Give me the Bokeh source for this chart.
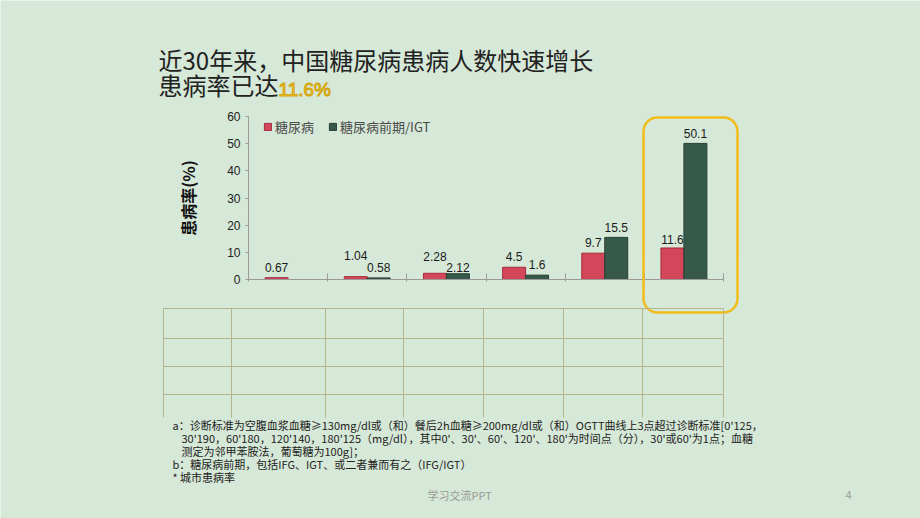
from bokeh.plotting import figure
from bokeh.models import (Range1d, LinearAxis, FixedTicker, Label, BoxAnnotation, Arrow,
                          ColumnDataSource, Legend, LegendItem)
from bokeh.core.properties import value
from bokeh.embed import file_html
from bokeh.resources import INLINE

# ---------------- data ----------------
survey = ["1980", "1986", "1994", "1996", "2002", "2007-08"]
diabetes = [0.67, 1.04, 2.28, 4.5, 9.7, 11.6]
pre_diabetes = [None, 0.58, 2.12, 1.6, 15.5, 50.1]
y_ticks = [0, 10, 20, 30, 40, 50, 60]
series_names = ["糖尿病", "糖尿病前期/IGT"]
y_label = "患病率(%)"
title_line1 = "近30年来，中国糖尿病患病人数快速增长"
title_line2 = "患病率已达"
title_highlight = "11.6%"
footnotes = [
    "a：诊断标准为空腹血浆血糖≥130mg/dl或（和）餐后2h血糖≥200mg/dl或（和）OGTT曲线上3点超过诊断标准[0'125，",
    "30'190，60'180，120'140，180'125（mg/dl），其中0'、30'、60'、120'、180'为时间点（分），30'或60'为1点；血糖",
    "测定为邻甲苯胺法，葡萄糖为100g]；",
    "b：糖尿病前期，包括IFG、IGT、或二者兼而有之（IFG/IGT）",
    "* 城市患病率",
]
footer_text = "学习交流PPT"
page_number = "4"

# ---------------- styling / layout ----------------
W, H = 920, 518
CL, CR, CT, CB = 248, 723, 116, 279      # chart plotting area in page pixels
BG = "#d6e8d7"
RED, RED_EDGE = "#d4475b", "#a52a3c"
GREEN, GREEN_EDGE = "#36594a", "#253f31"
BAR_W = 0.29
red_lift = [10, 21, 17, 11, 11, 8]       # label distance above bar top (px)
green_lift = [10, 10, 6, 11, 10, 10]

N = len(survey)
Y0, Y1 = y_ticks[0], y_ticks[-1]
kx = (CR - CL) / N
ky = (CB - CT) / (Y1 - Y0)

# page figure: data coordinates = page pixels (y downwards)
p = figure(width=W, height=H, output_backend="svg", toolbar_location=None,
           x_range=Range1d(0, W), y_range=Range1d(H, 0),
           x_axis_type=None, y_axis_type=None,
           min_border_left=0, min_border_right=0, min_border_top=0, min_border_bottom=0)
p.background_fill_color = BG
p.border_fill_color = BG
p.outline_line_color = None

# chart scales mapped onto the chart area of the page
p.extra_x_ranges = {"cx": Range1d(-CL / kx, (W - CL) / kx)}
p.extra_y_ranges = {"cy": Range1d(Y0 - (H - CB) / ky, Y1 + CT / ky)}

# axes drawn at fixed locations inside the page
yaxis = LinearAxis(ticker=FixedTicker(ticks=y_ticks), x_range_name="cx", y_range_name="cy",
                   fixed_location=0, bounds=(Y0, Y1))
yaxis.axis_line_color = "#9a9a9a"
yaxis.major_tick_line_color = "#9a9a9a"
yaxis.major_tick_out = 3
yaxis.major_tick_in = 0
yaxis.minor_tick_line_color = None
yaxis.major_label_standoff = 5
yaxis.major_label_text_font = "Liberation Sans"
yaxis.major_label_text_font_size = "12px"
yaxis.major_label_text_color = "#222222"
yaxis.axis_label = y_label
yaxis.axis_label_text_font = "Noto Sans CJK SC"
yaxis.axis_label_text_font_style = "bold"
yaxis.axis_label_text_font_size = "16px"
yaxis.axis_label_text_color = "#111111"
yaxis.axis_label_standoff = 24
p.add_layout(yaxis, "left")

xaxis = LinearAxis(ticker=FixedTicker(ticks=list(range(N + 1))), x_range_name="cx",
                   y_range_name="cy", fixed_location=Y0, bounds=(0, N))
xaxis.axis_line_color = "#9a9a9a"
xaxis.major_tick_line_color = "#9a9a9a"
xaxis.major_tick_in = 6
xaxis.major_tick_out = 2
xaxis.minor_tick_line_color = None
xaxis.major_label_text_font_size = "0px"
xaxis.major_label_overrides = {i: "" for i in range(N + 1)}
p.add_layout(xaxis, "below")

# bars
xs = [i + 0.5 for i in range(N)]
red_src = ColumnDataSource(dict(
    x=[x - BAR_W / 2 for x in xs], top=diabetes,
    label=[f"{v:g}" for v in diabetes], dy=[-l for l in red_lift]))
g_idx = [i for i, v in enumerate(pre_diabetes) if v is not None]
green_src = ColumnDataSource(dict(
    x=[xs[i] + BAR_W / 2 for i in g_idx], top=[pre_diabetes[i] for i in g_idx],
    label=[f"{pre_diabetes[i]:g}" for i in g_idx], dy=[-green_lift[i] for i in g_idx]))

r1 = p.vbar(x="x", top="top", width=BAR_W, bottom=0, source=red_src,
            x_range_name="cx", y_range_name="cy",
            fill_color=RED, line_color=RED_EDGE, line_width=1)
r2 = p.vbar(x="x", top="top", width=BAR_W, bottom=0, source=green_src,
            x_range_name="cx", y_range_name="cy",
            fill_color=GREEN, line_color=GREEN_EDGE, line_width=1)

for src in (red_src, green_src):
    p.text(x="x", y="top", text="label", source=src, y_offset="dy",
           x_range_name="cx", y_range_name="cy",
           text_align="center", text_baseline="middle",
           text_font=value("Liberation Sans"), text_font_size="12px",
           text_color="#1a1a1a")

legend = Legend(items=[LegendItem(label=series_names[0], renderers=[r1]),
                       LegendItem(label=series_names[1], renderers=[r2])],
                orientation="horizontal", location=(263, 382),
                padding=0, margin=0, spacing=14,
                glyph_width=9, glyph_height=9, label_height=9,
                label_standoff=3,
                label_text_font="Noto Sans CJK SC", label_text_font_size="13px",
                label_text_color="#4a4a4a",
                background_fill_alpha=0, border_line_color=None)
p.add_layout(legend)

# highlight box around last group
p.add_layout(BoxAnnotation(left=643, right=737, top=117, bottom=312,
                           fill_color=None, fill_alpha=0, line_color="#f0bd1c",
                           line_alpha=1.0, line_width=2.5, border_radius=14))

# empty table grid beneath chart
col_px = [163, 231, 325, 403, 483, 563, 642, 723]
row_px = [308, 338, 366, 394]
xs0, ys0, xs1, ys1 = [], [], [], []
for c in col_px:
    xs0.append(c); xs1.append(c); ys0.append(308); ys1.append(417)
for r in row_px:
    xs0.append(col_px[0]); xs1.append(col_px[-1]); ys0.append(r); ys1.append(r)
grid_src = ColumnDataSource(dict(x0=xs0, y0=ys0, x1=xs1, y1=ys1))
p.add_layout(Arrow(end=None, x_start="x0", y_start="y0", x_end="x1", y_end="y1",
                   source=grid_src, line_color="#b4b48c", line_width=1))

# titles
p.add_layout(Label(x=158, y=59, text=title_line1, text_font="Noto Sans CJK SC",
                   text_font_size="24px", text_color="#222222", text_baseline="middle"))
p.add_layout(Label(x=158, y=84, text=title_line2, text_font="Noto Sans CJK SC",
                   text_font_size="24px", text_color="#222222", text_baseline="middle"))
p.add_layout(Label(x=278, y=89, text=title_highlight, text_font="Liberation Sans",
                   text_font_size="19px", text_color="#f2c31a", text_baseline="middle",
                   text_outline_color="#d4a510"))

# footnotes
foot_x = [172, 181, 181, 172, 172]
foot_y = [424, 437, 450, 463, 476]
for t, fx, fy in zip(footnotes, foot_x, foot_y):
    p.add_layout(Label(x=fx, y=fy, text=t, text_font="Noto Sans CJK SC",
                       text_font_size="11px", text_color="#222222", text_baseline="middle"))

p.add_layout(Label(x=427, y=494, text=footer_text, text_font="Noto Sans CJK SC",
                   text_font_size="11px", text_color="#9a9a9a", text_baseline="middle"))
p.add_layout(Label(x=848, y=494, text=page_number, text_font="Noto Sans CJK SC",
                   text_font_size="11px", text_color="#9a9a9a", text_baseline="middle",
                   text_align="center"))

open("out.html", "w").write(file_html(p, INLINE))
